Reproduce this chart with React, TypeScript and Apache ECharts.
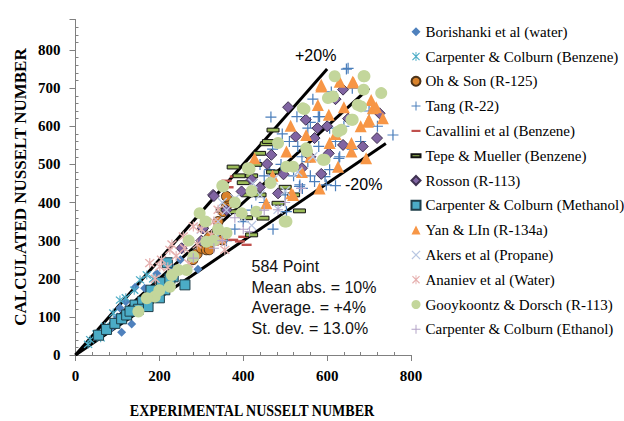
import React, { useEffect, useRef } from "react";
import * as echarts from "echarts";

// ---------- data (experimental, calculated) ----------
const borishanki = [[60,55],[85,70],[100,100],[106,123],[120,140],[134,81],[142,178],[165,175],[194,214],[230,230],[292,225],[250,250],[110,60]];
const carpenterBenzene = [[30,28],[35,40],[50,55],[70,75],[90,110],[106,144],[120,150],[154,197],[170,210],[185,200],[140,170],[60,45]];
const ohSon = [[280,250],[290,265],[300,280],[312,276],[319,276],[330,300],[350,302],[304,334],[340,350],[352,376],[360,390],[364,411],[360,416],[320,310]];
const tang = [[646,750],[650,752],[466,624],[566,671],[528,625],[579,625],[606,595],[554,595],[493,580],[530,547],[580,547],[630,520],[463,486],[554,507],[570,455],[595,468],[534,442],[620,444],[757,577],[582,625],[628,516],[606,486],[598,446],[541,437],[503,376],[471,330],[535,446],[510,560],[540,520],[490,500],[450,470],[430,420],[420,380],[400,350],[380,330],[450,400],[520,470],[600,600],[620,560],[700,640],[720,600],[680,560],[660,700],[610,690],[560,610],[470,540],[440,500],[500,420],[360,300],[340,320],[560,470],[640,600],[660,540]];
const cavallini = [[360,457],[380,468],[376,302],[392,298],[408,289],[350,330],[365,440],[400,310],[330,290]];
const tepeMueller = [[376,493],[420,470],[455,554],[471,590],[439,529],[400,452],[483,398],[534,378],[447,359],[420,315],[408,360],[376,376],[430,500],[460,560],[390,470],[520,420],[500,440],[440,420],[350,380],[470,480],[410,420]];
const rosson = [[507,650],[549,617],[525,573],[577,595],[620,671],[638,696],[570,569],[638,551],[685,547],[467,525],[457,501],[496,474],[604,529],[586,475],[396,429],[328,420],[483,424],[725,634],[719,569],[304,332],[253,280],[330,417],[560,520],[600,600],[650,620],[540,490],[420,460],[360,380],[300,300],[440,440]];
const carpenterMethanol = [[55,52],[74,67],[94,83],[110,95],[122,105],[142,131],[160,140],[173,127],[189,166],[200,150],[213,171],[233,205],[261,184],[219,242],[180,170],[150,120],[130,115],[205,190],[225,200]];
const yanLin = [[586,704],[630,717],[663,715],[578,656],[604,630],[513,601],[550,577],[606,556],[658,534],[503,534],[427,516],[519,420],[582,437],[626,494],[700,617],[709,647],[586,709],[661,717],[705,669],[717,650],[697,612],[733,621],[693,516],[658,556],[515,424],[455,398],[560,520],[620,580],[680,600],[540,480],[470,470],[640,650]];
const akers = [[300,330],[320,300],[340,350],[360,380],[380,410],[400,360],[423,450],[440,420],[471,459],[483,382],[500,430],[530,480],[566,520],[350,400],[420,340]];
const ananiev = [[201,232],[225,276],[257,311],[281,337],[340,381],[356,276],[324,315],[177,241],[190,200],[240,260],[260,280],[300,330],[310,300],[270,240],[220,230],[330,350],[350,300],[290,290],[205,250],[230,290]];
const gooykoontz = [[618,731],[546,645],[602,674],[661,617],[687,731],[687,696],[634,591],[590,512],[552,534],[519,494],[483,556],[415,488],[465,451],[350,444],[689,731],[729,687],[673,656],[658,617],[626,586],[542,647],[503,350],[352,442],[431,376],[499,350],[396,372],[296,372],[312,297],[245,223],[265,223],[225,179],[189,153],[170,149],[150,114],[281,258],[380,400],[420,430],[340,330],[330,300],[360,320],[310,350],[270,300],[230,210],[200,170],[614,678],[681,652],[550,542],[594,512],[411,490],[503,494]];
const carpenterEthanol = [[415,324],[483,381],[538,437],[281,254],[350,300],[400,330],[450,380],[380,360],[330,280],[500,400]];

const lineUpper = [[0,0],[600,750]];
const lineMiddle = [[0,0],[700,700]];
const lineLower = [[0,0],[740,555]];

const xTicks = { min: 0, max: 800, interval: 200 };
const yTicks = { min: 0, max: 880, interval: 100 };

const statsLines = ["584 Point", "Mean abs. = 10%", "Average. = +4%", "St. dev. = 13.0%"];

// ---------- symbols ----------
const PLUS = "path://M4.45,0H5.55V4.45H10V5.55H5.55V10H4.45V5.55H0V4.45H4.45Z";
const XSYM = "path://M1.5,0.7L5,4.2L8.5,0.7L9.3,1.5L5.8,5L9.3,8.5L8.5,9.3L5,5.8L1.5,9.3L0.7,8.5L4.2,5L0.7,1.5Z";
const ASTER = "path://M4.5,0H5.5V10H4.5Z M0.6,1.5L1.5,0.6L9.4,8.5L8.5,9.4Z M8.5,0.6L9.4,1.5L1.5,9.4L0.6,8.5Z";
const DASH = "path://M0,0M10,10M0,3.8H10V6.2H0Z";
const DASH2 = "path://M0,0M10,10M0,3.4H10V6.6H0Z";

const SERIF = "Liberation Serif";
const SANS = "Liberation Sans";

type Def = { name: string; data: number[][]; symbol: string; size: number; color: string; border?: string; bw?: number };

const defs: Def[] = [
  { name: "Borishanki et al (water)", data: borishanki, symbol: "diamond", size: 9, color: "#4F81BD" },
  { name: "Carpenter & Colburn (Benzene)", data: carpenterBenzene, symbol: ASTER, size: 9, color: "#4BACC6" },
  { name: "Oh & Son (R-125)", data: ohSon, symbol: "circle", size: 10, color: "#D9822B", border: "#4d3319", bw: 1 },
  { name: "Tang (R-22)", data: tang, symbol: PLUS, size: 11, color: "#4A7EBB" },
  { name: "Cavallini et al (Benzene)", data: cavallini, symbol: DASH, size: 10, color: "#C0504D" },
  { name: "Tepe & Mueller (Benzene)", data: tepeMueller, symbol: DASH2, size: 12, color: "#9BBB59", border: "#111", bw: 1 },
  { name: "Rosson (R-113)", data: rosson, symbol: "diamond", size: 11, color: "#8064A2", border: "#3F3151", bw: 1 },
  { name: "Carpenter & Colburn (Methanol)", data: carpenterMethanol, symbol: "rect", size: 10, color: "#4BACC6", border: "#1F3F4A", bw: 1 },
  { name: "Yan & LIn (R-134a)", data: yanLin, symbol: "triangle", size: 12, color: "#F79646" },
  { name: "Akers et al (Propane)", data: akers, symbol: XSYM, size: 10, color: "#B9C7E2" },
  { name: "Ananiev et al (Water)", data: ananiev, symbol: ASTER, size: 10, color: "#E6B0AF" },
  { name: "Gooykoontz & Dorsch (R-113)", data: gooykoontz, symbol: "circle", size: 12, color: "#C3D69B" },
  { name: "Carpenter & Colburn (Ethanol)", data: carpenterEthanol, symbol: PLUS, size: 10, color: "#B3A2C7" },
];

const axisColor = "#808080";

function buildOption() {
  const lineSeries = [lineUpper, lineMiddle, lineLower].map((d) => ({
    type: "line",
    data: d,
    showSymbol: false,
    symbol: "none",
    lineStyle: { color: "#000", width: 3 },
    z: 1,
    silent: true,
  }));
  const scatterSeries = defs.map((d) => ({
    type: "scatter",
    name: d.name,
    data: d.data,
    symbol: d.symbol,
    symbolSize: d.size,
    itemStyle: { color: d.color, borderColor: d.border ?? d.color, borderWidth: d.bw ?? 0, opacity: 1 },
    z: 2,
  }));
  return {
    animation: false,
    backgroundColor: "#fff",
    grid: { left: 75.5, right: 213, top: 19.5, bottom: 66, containLabel: false },
    xAxis: {
      type: "value",
      ...xTicks,
      axisLine: { show: true, lineStyle: { color: axisColor, width: 1 } },
      axisTick: { show: true, length: 6, lineStyle: { color: axisColor } },
      minorTick: { show: true, splitNumber: 5, length: -3, lineStyle: { color: axisColor } },
      splitLine: { show: false },
      axisLabel: { margin: 13, fontFamily: SERIF, fontWeight: "bold", fontSize: 15, color: "#000" },
    },
    yAxis: {
      type: "value",
      ...yTicks,
      axisLine: { show: true, lineStyle: { color: axisColor, width: 1 } },
      axisTick: { show: true, length: 6, lineStyle: { color: axisColor } },
      minorTick: { show: true, splitNumber: 5, length: -3, lineStyle: { color: axisColor } },
      splitLine: { show: false },
      axisLabel: { margin: 15, fontFamily: SERIF, fontWeight: "bold", fontSize: 15, color: "#000", showMaxLabel: false },
    },
    legend: {
      orient: "vertical",
      left: 410.5,
      top: 23.7,
      itemWidth: 9,
      itemHeight: 9,
      itemGap: 8.8,
      padding: 0,
      textStyle: { fontFamily: SERIF, fontSize: 15, color: "#000", lineHeight: 16 },
      data: defs.map((d) => d.name),
      selectedMode: false,
    },
    graphic: [
      { type: "text", x: 295, y: 55, style: { text: "+20%", fontFamily: SANS, fontSize: 16, fill: "#000", verticalAlign: "middle" } },
      { type: "text", x: 345, y: 184, style: { text: "-20%", fontFamily: SANS, fontSize: 16, fill: "#000", verticalAlign: "middle" } },
      { type: "text", x: 251.5, y: 256.5, style: { text: statsLines.join("\n"), fontFamily: SANS, fontSize: 16, lineHeight: 20.5, fill: "#111", verticalAlign: "top" } },
      { type: "text", x: 252, y: 410, scaleX: 0.825, style: { text: "EXPERIMENTAL NUSSELT NUMBER", fontFamily: SERIF, fontWeight: "bold", fontSize: 17, fill: "#000", align: "center", verticalAlign: "middle" } },
      { type: "text", x: 20, y: 187, rotation: Math.PI / 2, style: { text: "CALCULATED NUSSELT NUMBER", fontFamily: SERIF, fontWeight: "bold", fontSize: 17, fill: "#000", align: "center", verticalAlign: "middle" } },
    ],
    series: [...lineSeries, ...scatterSeries],
  };
}

export default function App() {
  const ref = useRef<HTMLDivElement>(null);
  useEffect(() => {
    if (!ref.current) return;
    const chart = echarts.init(ref.current, null, { renderer: "svg" });
    chart.setOption(buildOption() as any);
    return () => chart.dispose();
  }, []);
  return (
    <div
      ref={ref}
      style={{ position: "fixed", left: 0, top: 0, width: 624, height: 421, background: "#fff" }}
    />
  );
}
